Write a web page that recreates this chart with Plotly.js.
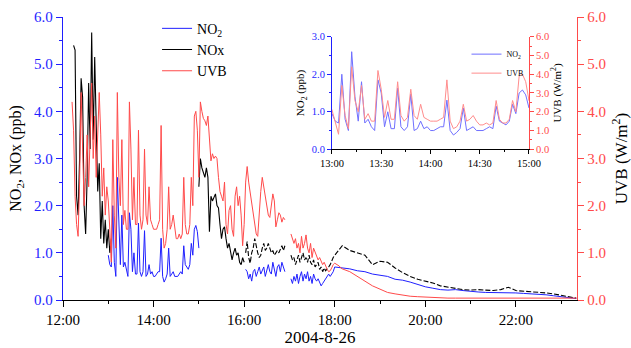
<!DOCTYPE html>
<html><head><meta charset="utf-8">
<script src="https://cdn.plot.ly/plotly-3.0.1.min.js"></script>
<style>html,body{margin:0;padding:0;background:#fff}</style>
</head><body><div id="chart" style="width:631px;height:348px"></div>
<script>
const DAY = '2004-08-26';
const xTickLabelsMain = ['12:00','14:00','16:00','18:00','20:00','22:00'];
const xTickLabelsInset = ['13:00','13:30','14:00','14:30','15:00'];

// NO2 (ppb) segments: start time, sampling step (min), values
const no2B_start = '13:00', no2B_step = 2;
const no2B = [0.95,0.75,0.7,2.0,0.8,0.5,2.6,1.4,0.75,1.8,0.7,0.8,0.6,0.5,1.85,1.5,0.6,1.0,0.55,0.55,1.63,0.6,0.5,0.6,1.47,0.5,0.55,0.75,0.55,0.6,
  0.5,0.5,0.55,0.6,0.6,1.31,0.5,0.38,0.45,0.55,1.1,0.5,0.55,0.6,0.5,0.5,0.5,0.55,0.6,0.55,1.15,0.75,0.7,0.65,0.75,1.2,0.95,1.5,1.58,1.45,1.1];
const no2C_start = '16:02', no2C_step = 2;
const no2C = [0.65,0.6,0.45,0.55,0.4,0.6,0.65,0.5,0.6,0.7,0.55,0.65,0.7,0.5,0.6,0.75,0.6,0.55,0.8,0.65,0.5,0.7,0.75,0.6,0.8,0.7,0.6];
const no2D_start = '17:02', no2D_step = 2;
const no2D = [0.45,0.35,0.5,0.4,0.55,0.35,0.5,0.6,0.4,0.55,0.45,0.6,0.4,0.5,0.35,0.55,0.45,0.4,0.45,0.35,0.3,0.35,0.4,0.45,0.5,0.55,0.5,0.55,0.6];
const no2E_start = '18:00', no2E_step = 10;
const no2E = [0.7,0.68,0.66,0.62,0.6,0.55,0.52,0.5,0.44,0.42,0.38,0.33,0.28,0.25,0.22,0.21,0.22,0.2,0.18,0.17,0.16,0.16,0.15,0.16,0.15,0.14,0.13,0.13,0.11,0.09,0.07,0.05,0.03];

// NOx (ppb)
const noxA_start = '12:14', noxA_step = 2;
const noxA = [5.4,5.3,2.2,1.8,3.0,4.7,4.3,2.0,1.4,2.6,4.6,3.2,5.67,3.4,5.15,3.5,2.3,2.9,1.3,2.1,1.2,1.7,1.1,1.5,1.0,1.3];
const noxB_start = '15:00', noxB_step = 2;
const noxB = [2.4,3.0,2.8,2.7,2.6,2.8,2.6,1.45,2.2,2.1,2.2,2.25,2.0,1.95,1.6,1.3,1.5,1.55,1.3,1.1,1.2,1.0,0.85,1.0,1.1,0.95,1.0,0.8,0.75,0.9,0.8];
const noxC_start = '16:02', noxC_step = 2;
const noxC = [1.0,1.24,0.9,0.78,1.0,1.1,1.3,1.1,1.0,0.9,0.95,1.1,1.2,1.05,1.1,1.2,1.1,1.0,1.05,0.95,1.0,1.05,1.0,1.1,1.15,1.05,1.15];
const noxD_start = '17:02', noxD_step = 2;
const noxD = [0.95,0.85,0.9,0.75,0.85,0.95,0.8,0.9,1.0,0.85,0.9,0.8,0.95,0.8,0.75,0.85,0.7,0.75,0.8,0.65,0.7,0.6,0.68,0.62,0.65,0.7,0.75,0.85,0.9];
const noxE_start = '18:00', noxE_step = 10;
const noxE = [0.95,1.15,1.05,1.0,0.95,0.75,0.82,0.8,0.68,0.58,0.5,0.44,0.4,0.36,0.3,0.27,0.24,0.22,0.21,0.22,0.21,0.2,0.22,0.27,0.2,0.19,0.18,0.17,0.15,0.13,0.1,0.07,0.04];

// UVB (W/m2)
const uvbA_start = '12:12', uvbA_step = 2;
const uvbA = [4.2,3.6,2.2,1.6,1.35,2.5,4.4,3.0,2.0,2.6,3.5,2.4,3.6,4.6,3.0,3.9,2.6,3.4,4.4,3.5,2.2,2.8,1.8,2.4];
const uvbB_start = '13:00', uvbB_step = 2;
const uvbB = [2.1,1.5,0.8,3.4,1.8,1.1,4.4,2.6,2.0,3.4,1.6,1.9,1.5,1.5,4.2,3.2,1.7,2.6,1.6,1.6,3.6,1.8,1.5,1.7,3.2,1.8,1.6,2.4,1.7,1.6,
  1.5,1.5,1.5,1.6,1.7,3.7,1.5,1.1,1.2,1.5,2.4,1.5,1.6,1.8,1.5,1.3,1.3,1.4,1.3,1.4,2.6,1.6,1.4,1.4,1.6,2.6,2.0,3.9,4.0,3.6];
const uvbC_start = '15:00', uvbC_step = 2;
const uvbC = [2.6,4.2,4.0,3.85,3.8,3.7,3.9,3.5,2.95,3.1,3.0,3.05,3.0,2.6,2.3,2.2,2.1,2.5,1.6,1.4,1.9,2.0,1.5,1.35,2.2,2.4,2.0,2.2,1.8,1.15,
  1.6,2.5,2.83,2.5,2.3,2.0,1.9,1.6,1.4,1.35,1.9,2.3,2.6,2.4,2.1,2.0,1.8,1.75,2.0,2.25,2.1,1.55,1.7,1.85,1.8,1.65,1.75,1.7];
const uvbD_start = '17:02', uvbD_step = 2;
const uvbD = [1.4,1.3,1.2,1.3,1.1,1.2,1.0,1.35,1.1,1.2,1.38,1.1,1.0,1.2,0.9,1.1,1.0,0.95,0.85,0.9,0.8,0.75,0.8,0.7,0.65,0.6,0.62,0.68,0.75,0.78,0.76,0.74,0.72,0.68];
const uvbE_start = '18:10', uvbE_step = 10;
const uvbE = [0.66,0.6,0.5,0.4,0.3,0.23,0.16,0.13,0.1,0.08,0.07,0.06,0.05,0.05,0.04,0.04,0.04,0.04,0.04,0.04,0.04,0.04,0.04,0.04,0.04,0.04,0.04,0.04,0.04,0.04,0.04,0.04];

function mins(hm){ const p = hm.split(':').map(Number); return p[0]*60 + p[1]; }
function stamp(t){ const h = Math.floor(t/60), m = Math.round(t%60);
  return DAY + ' ' + String(h).padStart(2,'0') + ':' + String(m).padStart(2,'0'); }
function build(segs){
  const x = [], y = []; let last = null;
  segs.forEach(s => {
    const t0 = mins(s[0]);
    if (last !== null && t0 - last > s[1] + 0.5) { x.push(stamp(last + 1)); y.push(null); }
    s[2].forEach((v, i) => { x.push(stamp(t0 + i*s[1])); y.push(v); });
    last = t0 + (s[2].length - 1)*s[1];
  });
  return {x, y};
}
const NO2 = build([[no2B_start,no2B_step,no2B],[no2C_start,no2C_step,no2C],[no2D_start,no2D_step,no2D],[no2E_start,no2E_step,no2E]]);
const NOXsolid = build([[noxA_start,noxA_step,noxA],[noxB_start,noxB_step,noxB]]);
const NOXdash = build([[noxC_start,noxC_step,noxC],[noxD_start,noxD_step,noxD],[noxE_start,noxE_step,noxE]]);
const UVB = build([[uvbA_start,uvbA_step,uvbA],[uvbB_start,uvbB_step,uvbB],[uvbC_start,uvbC_step,uvbC],[uvbD_start,uvbD_step,uvbD],[uvbE_start,uvbE_step,uvbE]]);

const BLUE = '#1f1fff', RED = '#ff4a4a', BLACK = '#000';
const FONT = '"Liberation Serif", "Times New Roman", serif';
function f(size, color){ return {family:FONT, size:size, color:color || '#000'}; }

const traces = [
  {x:NO2.x, y:NO2.y, type:'scatter', mode:'lines', name:'NO<sub>2</sub>', line:{color:BLUE, width:1}, xaxis:'x', yaxis:'y', legend:'legend', legendrank:1},
  {x:NOXsolid.x, y:NOXsolid.y, type:'scatter', mode:'lines', name:'NOx', line:{color:BLACK, width:1.1}, xaxis:'x', yaxis:'y', legend:'legend', legendrank:2},
  {x:NOXdash.x, y:NOXdash.y, type:'scatter', mode:'lines', name:'NOx', showlegend:false, line:{color:BLACK, width:1.1, dash:'5px,2px'}, xaxis:'x', yaxis:'y'},
  {x:UVB.x, y:UVB.y, type:'scatter', mode:'lines', name:'UVB', line:{color:RED, width:1}, xaxis:'x', yaxis:'y2', legend:'legend', legendrank:3},
  {x:NO2.x, y:NO2.y, type:'scatter', mode:'lines', name:'NO<sub>2</sub>', line:{color:'#6f6fff', width:1}, xaxis:'x2', yaxis:'y3', legend:'legend2', legendrank:1},
  {x:UVB.x, y:UVB.y, type:'scatter', mode:'lines', name:'UVB', line:{color:'#ff8c8c', width:1}, xaxis:'x2', yaxis:'y4', legend:'legend2', legendrank:2}
];

function tv(labels){ return labels.map(l => DAY + ' ' + l); }

const layout = {
  width:631, height:348,
  margin:{l:63, r:54, t:17, b:48},
  paper_bgcolor:'#fff', plot_bgcolor:'rgba(0,0,0,0)',
  font:f(15),
  showlegend:true,
  xaxis:{type:'date', range:[DAY+' 12:00', DAY+' 23:21'], tickmode:'array', tickvals:tv(xTickLabelsMain), ticktext:xTickLabelsMain,
    ticks:'outside', ticklen:6, tickcolor:'#000', showline:true, linecolor:'#000', linewidth:1, showgrid:false, zeroline:false,
    tickfont:f(15),
    minor:{dtick:3600000, tick0:DAY+' 12:00', ticks:'outside', ticklen:3, tickcolor:'#000'},
    title:{text:'2004-8-26', font:f(17), standoff:3}, anchor:'y', domain:[0,1]},
  xaxis3:{type:'date', overlaying:'x', side:'top', anchor:'y', range:[DAY+' 12:00', DAY+' 23:21'], tickmode:'array', tickvals:tv(xTickLabelsMain),
    showticklabels:false, ticks:'inside', ticklen:5, tickcolor:'#000', showline:true, linecolor:'#000', showgrid:false, zeroline:false,
    minor:{dtick:3600000, tick0:DAY+' 12:00', ticks:'inside', ticklen:3, tickcolor:'#000'}},
  yaxis:{range:[0,6], dtick:1, tickformat:'.1f', ticks:'outside', ticklen:6, tickcolor:BLUE, showline:true, linecolor:BLUE, linewidth:1.2,
    tickfont:f(15, BLUE), showgrid:false, zeroline:false, minor:{dtick:0.5, ticks:'outside', ticklen:3, tickcolor:BLUE},
    title:{text:'NO<sub>2</sub>, NOx (ppb)', font:f(16), standoff:8}, anchor:'x'},
  yaxis2:{range:[0,6], dtick:1, tickformat:'.1f', overlaying:'y', side:'right', anchor:'x', ticks:'outside', ticklen:6, tickcolor:RED,
    showline:true, linecolor:RED, linewidth:1.2, tickfont:f(15, RED), showgrid:false, zeroline:false,
    minor:{dtick:0.5, ticks:'outside', ticklen:3, tickcolor:RED},
    title:{text:'UVB (W/m<sup>2</sup>)', font:f(17), standoff:12}},
  xaxis2:{type:'date', domain:[0.5233, 0.9066], anchor:'y3', range:[DAY+' 13:00', DAY+' 15:00'], tickmode:'array', tickvals:tv(xTickLabelsInset), ticktext:xTickLabelsInset,
    ticks:'outside', ticklen:4, tickcolor:'#000', showline:true, linecolor:'#000', showgrid:false, zeroline:false,
    tickfont:f(10.5), minor:{dtick:900000, tick0:DAY+' 13:00', ticks:'outside', ticklen:2, tickcolor:'#000'}},
  yaxis3:{domain:[0.5325, 0.9304], anchor:'x2', range:[0,3], dtick:1, tickformat:'.1f', ticks:'outside', ticklen:4, tickcolor:BLUE,
    showline:true, linecolor:BLUE, tickfont:f(10.5, BLUE), showgrid:false, zeroline:false,
    minor:{dtick:0.5, ticks:'outside', ticklen:2, tickcolor:BLUE},
    title:{text:'NO<sub>2</sub> (ppb)', font:f(11), standoff:4}},
  yaxis4:{overlaying:'y3', side:'right', anchor:'x2', range:[0,6], dtick:1, tickformat:'.1f', ticks:'outside', ticklen:4, tickcolor:RED,
    showline:true, linecolor:RED, tickfont:f(10.5, RED), showgrid:false, zeroline:false,
    minor:{dtick:0.5, ticks:'outside', ticklen:2, tickcolor:RED},
    title:{text:'UVB (W/m<sup>2</sup>)', font:f(11), standoff:4}},
  legend:{x:0.183, y:1.015, xanchor:'left', yanchor:'top', bgcolor:'rgba(0,0,0,0)', font:f(14), tracegroupgap:0, traceorder:'normal'},
  legend2:{x:0.785, y:0.92, xanchor:'left', yanchor:'top', bgcolor:'rgba(0,0,0,0)', font:f(8), tracegroupgap:0}
};

Plotly.newPlot('chart', traces, layout, {displayModeBar:false, staticPlot:true});
</script></body></html>
